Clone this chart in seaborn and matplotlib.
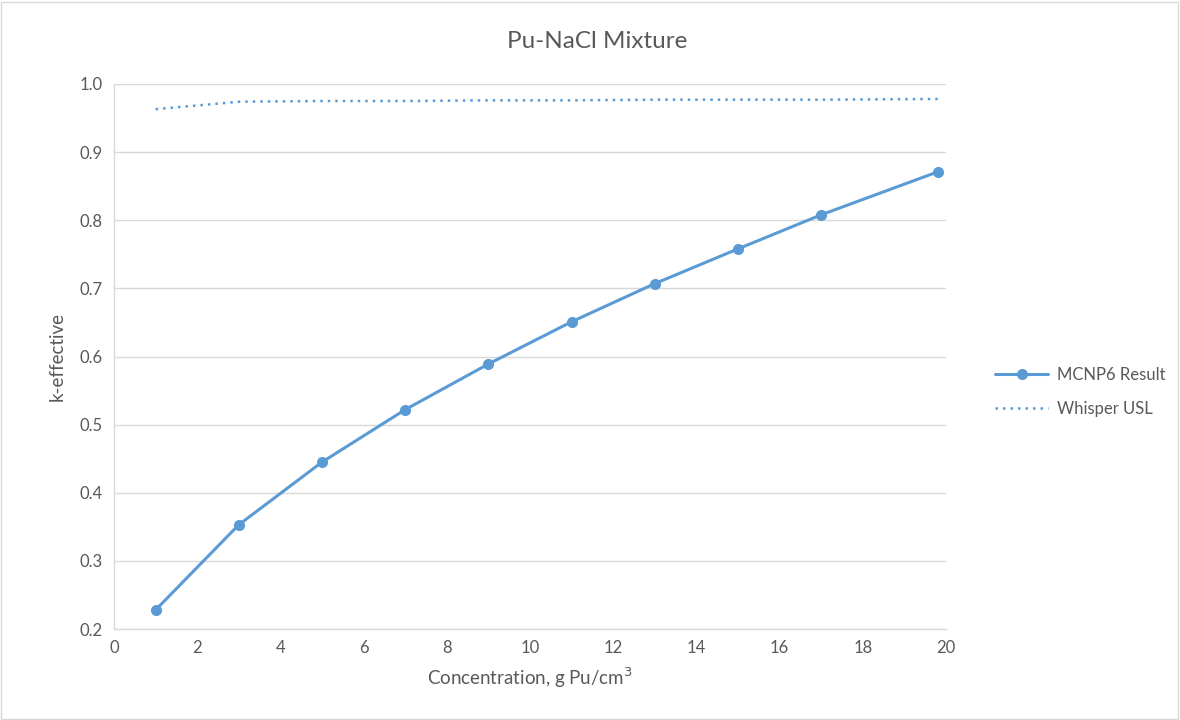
import matplotlib
matplotlib.use("Agg")
import matplotlib.pyplot as plt
import seaborn as sns
import pandas as pd
from matplotlib.patches import Rectangle
from matplotlib.lines import Line2D

concentration = [1, 3, 5, 7, 9, 11, 13, 15, 17, 19.8]
mcnp6 = [0.228, 0.353, 0.445, 0.522, 0.589, 0.651, 0.707, 0.758, 0.808, 0.871]
whisper_usl = [0.963, 0.974, 0.975, 0.975, 0.976, 0.976, 0.977, 0.977, 0.977, 0.978]
x_ticks = [0, 2, 4, 6, 8, 10, 12, 14, 16, 18, 20]
y_ticks = [0.2, 0.3, 0.4, 0.5, 0.6, 0.7, 0.8, 0.9, 1.0]

sns.set_theme(style="white")
plt.rcParams['font.family'] = ['Lato', 'DejaVu Sans']

blue = "#5B9BD5"
grey_text = "#595959"
grid_c = "#D9D9D9"

df = pd.DataFrame({"conc": concentration, "mcnp": mcnp6, "usl": whisper_usl})

fig = plt.figure(figsize=(11.8, 7.2), dpi=100)
ax = fig.add_axes([114/1180, 1-629/720, (946-114)/1180, (629-84)/720])

sns.lineplot(data=df, x="conc", y="usl", ax=ax, color=blue, linewidth=1.8,
             linestyle=(0, (1, 2)), label="Whisper USL")
sns.lineplot(data=df, x="conc", y="mcnp", ax=ax, color=blue, linewidth=2.2,
             marker="o", markersize=8, markeredgewidth=0, label="MCNP6 Result")

ax.set_xlim(0, 20)
ax.set_ylim(0.2, 1.0)
ax.set_xticks(x_ticks)
ax.set_yticks(y_ticks)
ax.set_xticklabels([str(t) for t in x_ticks])
ax.set_yticklabels([f"{t:.1f}" for t in y_ticks])
ax.tick_params(axis="both", length=0, labelsize=12, colors=grey_text, pad=8)
ax.yaxis.grid(True, color=grid_c, linewidth=1)
ax.xaxis.grid(False)
for s in ["top", "right"]:
    ax.spines[s].set_visible(False)
for s in ["left", "bottom"]:
    ax.spines[s].set_color(grid_c)
    ax.spines[s].set_linewidth(1)

ax.set_xlabel("Concentration, g Pu/cm$^3$", fontsize=13.5, color=grey_text, labelpad=7)
ax.set_ylabel("k-effective", fontsize=13.5, color=grey_text, labelpad=10)
fig.text(597 / 1180, 1 - 42/720, "Pu-NaCl Mixture", fontsize=17.5,
         color=grey_text, ha="center", va="center")

handles = [
    Line2D([], [], color=blue, linewidth=2.2, marker="o", markersize=8, markeredgewidth=0),
    Line2D([], [], color=blue, linewidth=1.8, linestyle=(0, (1, 2))),
]
ax.legend(handles, ["MCNP6 Result", "Whisper USL"], loc="center left",
          bbox_to_anchor=(980/1180, 1 - 392/720), bbox_transform=fig.transFigure,
          frameon=False, fontsize=12, labelcolor=grey_text, handlelength=3.2,
          labelspacing=1.1, handletextpad=0.5)

fig.patches.append(Rectangle((1/1180, 1/720), 1 - 3/1180, 1 - 3/720,
                             transform=fig.transFigure, fill=False,
                             edgecolor="#D9D9D9", linewidth=1))

fig.savefig("out.png", dpi=100, facecolor="white")
